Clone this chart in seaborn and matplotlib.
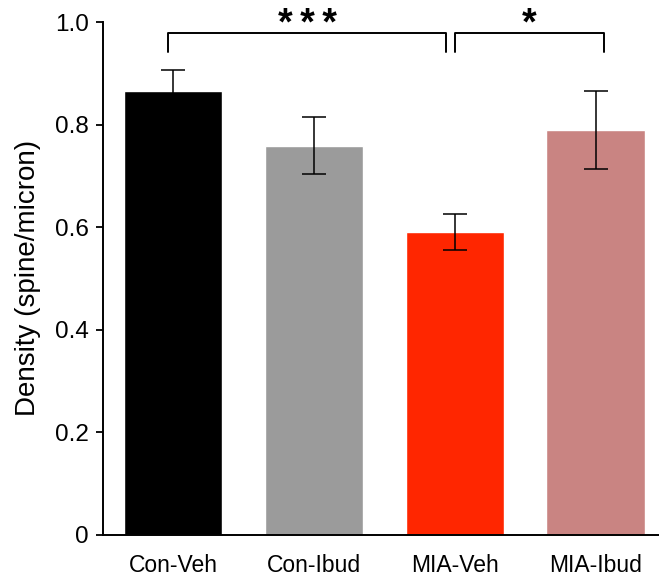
import matplotlib
matplotlib.use("Agg")
import matplotlib.pyplot as plt
import seaborn as sns
import numpy as np

groups = ["Con-Veh", "Con-Ibud", "MIA-Veh", "MIA-Ibud"]
means = [0.866, 0.759, 0.590, 0.789]
sems = [0.041, 0.055, 0.035, 0.076]
colors = ["#000000", "#9b9b9b", "#ff2600", "#c98482"]

# significance brackets: (start, end, label)
brackets = [(-0.04, 1.94, "*\u2009*\u2009*"), (2.0, 3.06, "*")]
bracket_y = 0.978
bracket_drop = 0.036

sns.set_style("ticks", rc={"axes.edgecolor": "black", "text.color": "black",
                           "axes.labelcolor": "black", "xtick.color": "black",
                           "ytick.color": "black"})
plt.rcParams["font.family"] = ["Liberation Sans", "DejaVu Sans"]

fig = plt.figure(figsize=(6.59, 5.8), dpi=100)
ax = fig.add_axes([0.156, 0.078, 0.844, 0.884])

sns.barplot(x=groups, y=means, hue=groups, palette=colors, legend=False,
            width=0.7, saturation=1, ax=ax)
ax.errorbar(np.arange(len(groups)), means, yerr=sems, fmt="none",
            ecolor="black", elinewidth=1.1, capsize=8.5, capthick=1.1)

ax.set_xlim(-0.5, 3.45)
ax.set_ylim(0, 1.0)
ax.set_yticks([0, 0.2, 0.4, 0.6, 0.8, 1.0])
ax.set_yticklabels(["0", "0.2", "0.4", "0.6", "0.8", "1.0"])
ax.set_ylabel("Density (spine/micron)", fontsize=20, labelpad=10)
ax.set_xlabel("")
ax.tick_params(axis="y", labelsize=17.5, length=5, width=1.3, pad=5,
               direction="out")
ax.tick_params(axis="x", labelsize=16.5, length=0, pad=14)
for s in ["left", "bottom"]:
    ax.spines[s].set_linewidth(1.4)
sns.despine(ax=ax)

for x0, x1, label in brackets:
    ax.plot([x0, x0, x1, x1],
            [bracket_y - bracket_drop, bracket_y, bracket_y, bracket_y - bracket_drop],
            color="black", lw=1.4, clip_on=False)
    ax.text((x0 + x1) / 2, 0.975, label, ha="center", va="baseline",
            fontsize=27, fontweight="bold", clip_on=False)

fig.savefig("out.png", dpi=100)
